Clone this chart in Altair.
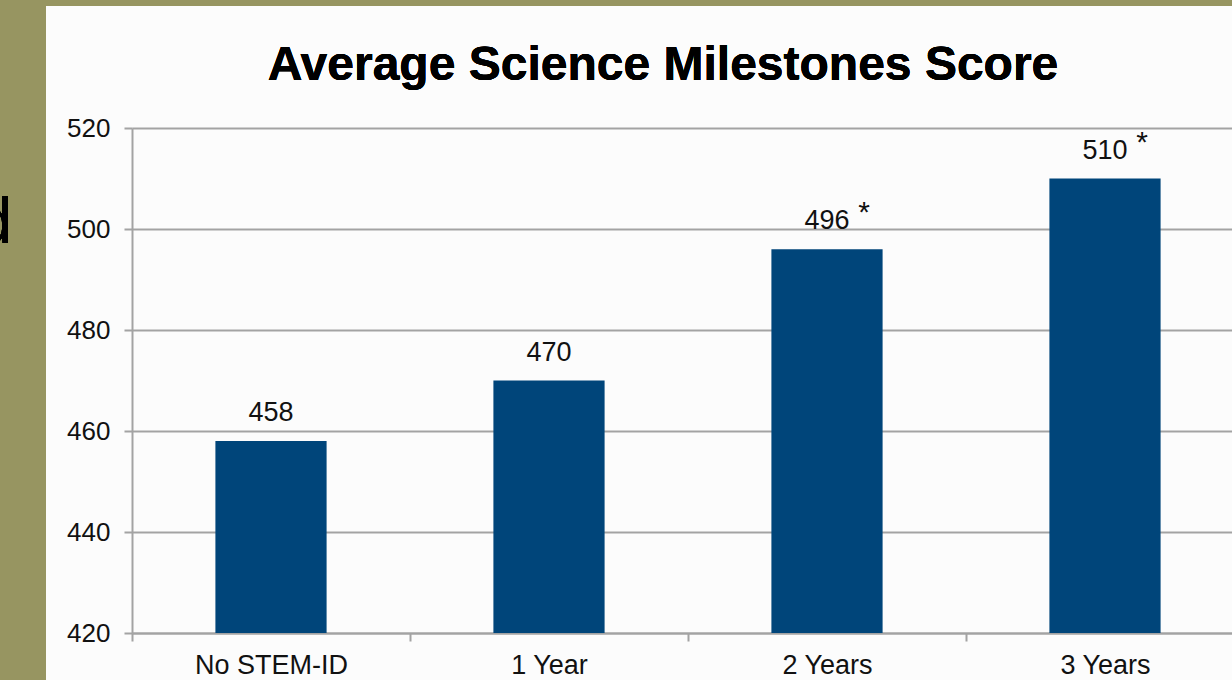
import altair as alt
import pandas as pd

categories = ["No STEM-ID", "1 Year", "2 Years", "3 Years"]
scores = [458, 470, 496, 510]
stars = ["", "", "*", "*"]
y_ticks = [420, 440, 460, 480, 500, 520]
title_text = "Average Science Milestones Score"

df = pd.DataFrame({"cat": categories, "score": scores, "star": stars})

FONT = "Liberation Sans"
GRAY = "#a3a3a3"
OLIVE = "#979561"
BAR = "#00457a"

x = alt.X(
    "cat:N",
    sort=categories,
    scale=alt.Scale(range=[0, 1112], paddingInner=0, paddingOuter=0),
    axis=alt.Axis(
        title=None, labelAngle=0, tickBand="extent", ticks=True, tickSize=8,
        tickColor=GRAY, tickWidth=2, domainColor=GRAY, domainWidth=2,
        labelFontSize=27, labelFont=FONT, labelColor="#111111",
        labelPadding=11, grid=False,
    ),
)
y = alt.Y(
    "score:Q",
    scale=alt.Scale(domain=[420, 520], zero=False, nice=False),
    axis=alt.Axis(
        values=y_ticks, title=None, tickSize=8, tickColor=GRAY, tickWidth=2,
        domainColor=GRAY, domainWidth=2, gridColor=GRAY, gridWidth=2,
        labelFontSize=26, labelFont=FONT, labelColor="#111111",
        labelPadding=14, grid=True,
    ),
)

base = alt.Chart(df)

bars = base.mark_bar(color=BAR, width={"band": 0.4}, clip=True).encode(x=x, y=y)

labels = base.mark_text(
    font=FONT, fontSize=27, color="#111111", baseline="alphabetic", dy=-20
).encode(x=x, y=y, text="score:Q")

star_marks = base.mark_text(
    font=FONT, fontSize=30, color="#111111", baseline="alphabetic", dx=37, dy=-27
).encode(x=x, y=y, text="star:N")

bg_left = alt.Chart(df).mark_rect(color=OLIVE).encode(
    x=alt.value(-132), x2=alt.value(-86), y=alt.value(-128), y2=alt.value(552)
)
bg_top = alt.Chart(df).mark_rect(color=OLIVE).encode(
    x=alt.value(-132), x2=alt.value(1100), y=alt.value(-128), y2=alt.value(-122)
)
frag = alt.Chart(df).mark_text(
    text="d", font=FONT, fontSize=64, color="#000000", align="right",
    baseline="alphabetic"
).encode(x=alt.value(-120), y=alt.value(115))

title = alt.Chart(df).mark_text(
    text=title_text, font=FONT, fontSize=48, fontWeight="bold",
    color="#000000", align="center", baseline="alphabetic"
).encode(x=alt.value(531), y=alt.value(-48))

chart = alt.layer(bg_left, bg_top, frag, title, bars, labels, star_marks).properties(
    width=1100,
    height=505,
    autosize=alt.AutoSizeParams(type="none"),
    padding={"left": 132, "top": 128, "right": 0, "bottom": 47},
    background="#fcfcfc",
).configure_view(stroke=None)

chart.save("out.html", embed_options={"renderer": "svg", "actions": False})
